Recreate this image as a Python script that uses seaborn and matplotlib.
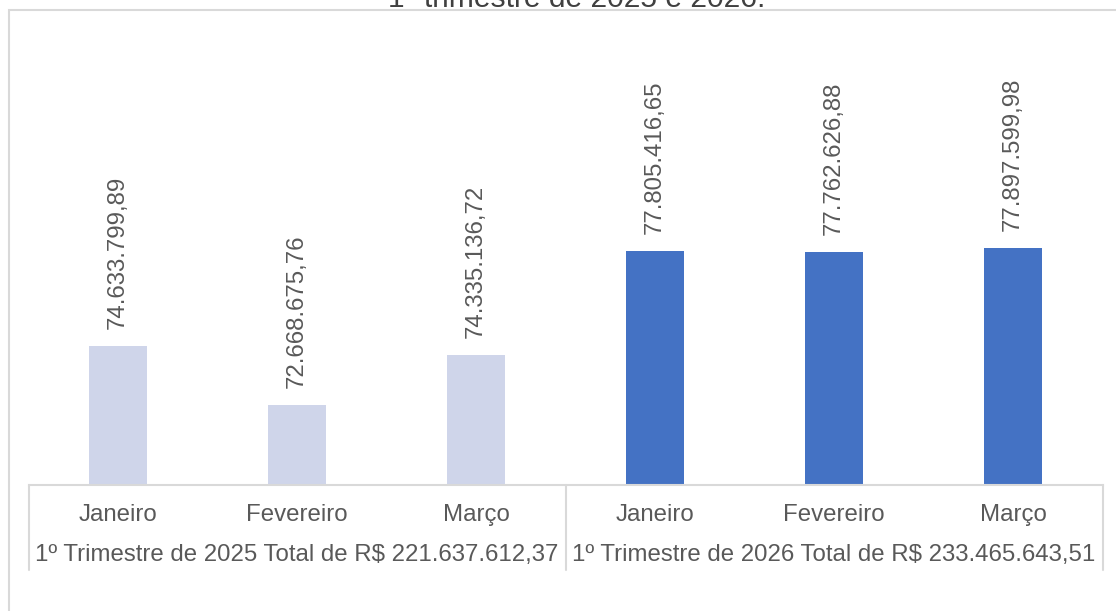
import pandas as pd
import matplotlib.pyplot as plt
import matplotlib.transforms as mtransforms
from matplotlib.patches import Rectangle
import seaborn as sns

# dados do gráfico
meses = ["Janeiro", "Fevereiro", "Março"]
valores_2025 = [74633799.89, 72668675.76, 74335136.72]
valores_2026 = [77805416.65, 77762626.88, 77897599.98]
grupos = [
    "1º Trimestre de 2025 Total de R$ 221.637.612,37",
    "1º Trimestre de 2026 Total de R$ 233.465.643,51",
]
titulo = "1º trimestre de 2025 e 2026."

cor_2025 = "#CFD5EA"
cor_2026 = "#4472C4"
cor_texto = "#595959"
cor_linha = "#D9D9D9"


def formata_brl(v):
    s = f"{v:,.2f}"
    return s.replace(",", "X").replace(".", ",").replace("X", ".")


df = pd.DataFrame({
    "posicao": [f"{m} 2025" for m in meses] + [f"{m} 2026" for m in meses],
    "valor": valores_2025 + valores_2026,
    "ano": ["2025"] * 3 + ["2026"] * 3,
})

sns.set_style("white")
plt.rcParams["font.family"] = ["Liberation Sans", "DejaVu Sans"]

W, H = 1116, 611
fig = plt.figure(figsize=(W / 100, H / 100), dpi=100)
ax = fig.add_axes([28.5 / W, 1 - 485 / H, 1074 / W, 300 / H])

sns.barplot(data=df, x="posicao", y="valor", hue="ano",
            palette={"2025": cor_2025, "2026": cor_2026},
            dodge=False, width=0.32, saturation=1, linewidth=0,
            legend=False, ax=ax)

ax.set_ylim(70e6, 80e6)
ax.set_xlim(-0.5, 5.5)
ax.set_xlabel("")
ax.set_ylabel("")
ax.set_yticks([])
ax.set_xticks([])
for lado in ["left", "right", "top"]:
    ax.spines[lado].set_visible(False)
ax.spines["bottom"].set_color(cor_linha)
ax.spines["bottom"].set_linewidth(1.5)

# rótulos de dados
for cont in ax.containers:
    ax.bar_label(cont, labels=[formata_brl(v) for v in cont.datavalues],
                 rotation=90, padding=12, fontsize=17.3, color=cor_texto)

# eixo de categorias em dois níveis
trans = mtransforms.blended_transform_factory(ax.transData, ax.transAxes)
for i, m in enumerate(meses * 2):
    ax.text(i, -0.10, m, transform=trans, ha="center", va="center",
            fontsize=17.3, color=cor_texto)
for g, nome in enumerate(grupos):
    ax.text(3 * g + 1, -0.234, nome, transform=trans, ha="center", va="center",
            fontsize=17.3, color=cor_texto)
for xv in [-0.5, 2.5, 5.5]:
    ax.plot([xv, xv], [0, -0.283], transform=trans, color=cor_linha,
            lw=1.5, clip_on=False)

# título cortado no topo e borda da área do gráfico
fig.text(577 / W, 1 - 7 / H, titulo, ha="center", va="baseline",
         fontsize=21.6, color="#404040")
fig.patches.append(Rectangle((9 / W, -0.2), 1.2, 1.2 - 9.5 / H,
                             transform=fig.transFigure, fill=False,
                             edgecolor=cor_linha, lw=1.5))

fig.savefig("out.png", dpi=100)
